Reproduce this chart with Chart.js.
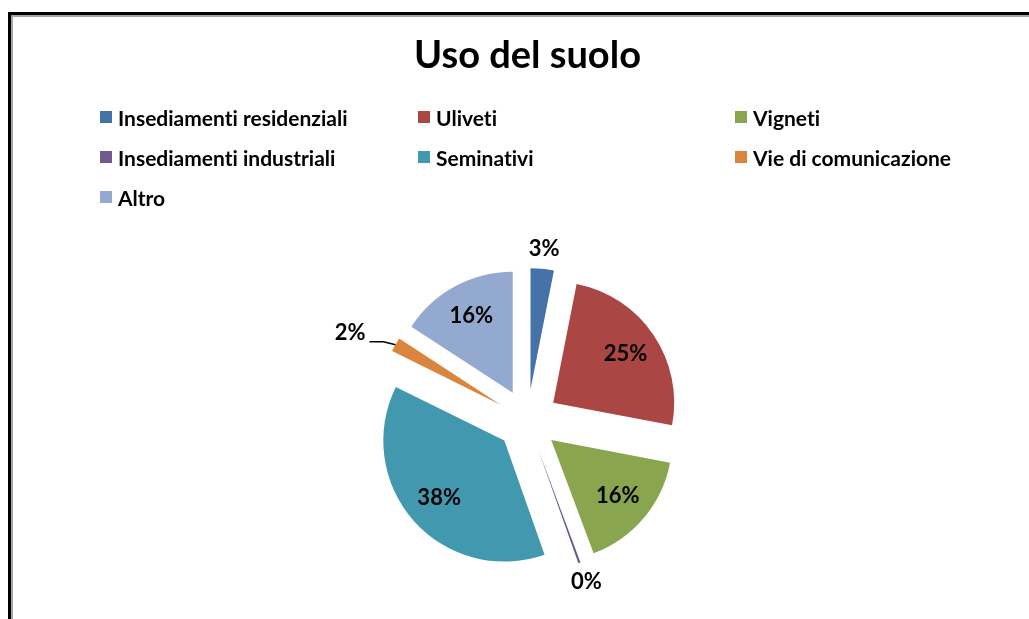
<!DOCTYPE html>
<html>
<head>
<meta charset="utf-8">
<script src="https://cdn.jsdelivr.net/npm/chart.js@4"></script>
<style>
  html, body { margin: 0; padding: 0; background: #fff; }
  #wrap { position: relative; width: 1029px; height: 619px; overflow: hidden; background: #fff; }
  #frame { position: absolute; left: 8px; top: 12px; width: 1100px; height: 700px;
           border-left: 3px solid #000; border-top: 3px solid #000;
           box-shadow: inset 2px 2px 0 #a6a6a6; }
  #c { position: absolute; left: 0; top: 0; }
  #legend { position: absolute; left: 0; top: 0; width: 1029px; height: 619px; pointer-events: none;
            font-family: Lato, "Open Sans", sans-serif; font-weight: bold; font-size: 21px; color: #000;
            font-variant-ligatures: none; font-feature-settings: "liga" 0, "clig" 0; }
  .li { position: absolute; display: flex; align-items: center; white-space: nowrap; height: 24px; }
  .sw { width: 12px; height: 12px; margin-right: 6px; }
</style>
</head>
<body>
<div id="wrap">
  <div id="frame"></div>
  <canvas id="c" width="1029" height="619"></canvas>
  <div id="legend"></div>
</div>
<script>
const titleText = 'Uso del suolo';
const categories = ['Insediamenti residenziali', 'Uliveti', 'Vigneti', 'Insediamenti industriali', 'Seminativi', 'Vie di comunicazione', 'Altro'];
const values = [3.1, 24.9, 16.3, 0.3, 37.7, 1.9, 15.8];
const colors = ['#4572A7', '#AA4643', '#89A54E', '#71588F', '#4198AF', '#DB843D', '#93A9CF'];

const EXPLODE = 31;
const LABEL_FONT = 'bold 22px Lato, "Open Sans", sans-serif';

// legend (3 columns, row-major)
const legendEl = document.getElementById('legend');
const colX = [100, 418, 735];
const rowY = [105, 145, 185];
categories.forEach((name, i) => {
  const d = document.createElement('div');
  d.className = 'li';
  d.style.left = colX[i % 3] + 'px';
  d.style.top = rowY[Math.floor(i / 3)] + 'px';
  const sw = document.createElement('span');
  sw.className = 'sw';
  sw.style.background = colors[i];
  const t = document.createElement('span');
  t.textContent = name;
  d.appendChild(sw); d.appendChild(t);
  legendEl.appendChild(d);
});

const explodePlugin = {
  id: 'explode',
  beforeDatasetDraw(chart, args) {
    const ctx = chart.ctx;
    args.meta.data.forEach(arc => {
      const mid = (arc.startAngle + arc.endAngle) / 2;
      ctx.save();
      ctx.translate(Math.cos(mid) * EXPLODE, Math.sin(mid) * EXPLODE);
      arc.draw(ctx);
      ctx.restore();
    });
    return false;
  },
  afterDatasetsDraw(chart) {
    const ctx = chart.ctx;
    const meta = chart.getDatasetMeta(0);
    const data = chart.data.datasets[0].data;
    const total = data.reduce((a, b) => a + b, 0);
    ctx.save();
    ctx.font = LABEL_FONT;
    ctx.fillStyle = '#000';
    ctx.strokeStyle = '#000';
    meta.data.forEach((arc, i) => {
      const mid = (arc.startAngle + arc.endAngle) / 2;
      const dx = Math.cos(mid), dy = Math.sin(mid);
      const ax = arc.x + dx * EXPLODE, ay = arc.y + dy * EXPLODE;
      const r = arc.outerRadius;
      const frac = data[i] / total;
      const txt = Math.round(frac * 100) + '%';
      if (frac >= 0.05) {
        ctx.textAlign = 'center'; ctx.textBaseline = 'middle';
        ctx.fillText(txt, ax + dx * r * 0.72, ay + dy * r * 0.72);
      } else if (Math.abs(dx) > Math.abs(dy)) {
        const tx = ax + dx * r, ty = ay + dy * r;
        const side = dx < 0 ? -1 : 1;
        ctx.lineWidth = 1.5;
        ctx.beginPath();
        ctx.moveTo(tx, ty);
        ctx.lineTo(tx + side * 12, ty - 3);
        ctx.lineTo(tx + side * 26, ty - 3);
        ctx.stroke();
        ctx.textAlign = side < 0 ? 'right' : 'left';
        ctx.textBaseline = 'middle';
        ctx.fillText(txt, tx + side * 30, ty - 12);
      } else {
        ctx.textAlign = 'center'; ctx.textBaseline = 'middle';
        ctx.fillText(txt, ax + dx * (r + 20), ay + dy * (r + 20));
      }
    });
    ctx.restore();
  }
};

new Chart(document.getElementById('c'), {
  type: 'pie',
  data: {
    labels: categories,
    datasets: [{
      data: values,
      backgroundColor: colors,
      borderWidth: 0,
      hoverOffset: 0
    }]
  },
  options: {
    responsive: false,
    animation: false,
    radius: 121,
    layout: { padding: { left: 26, right: 0, top: 0, bottom: 0 } },
    plugins: {
      legend: { display: false },
      tooltip: { enabled: false },
      title: {
        display: true,
        text: titleText,
        color: '#000',
        font: { family: 'Lato, "Open Sans", sans-serif', size: 38, weight: 'bold', lineHeight: 1.2 },
        padding: { top: 33, bottom: 142.4 }
      }
    }
  },
  plugins: [explodePlugin]
});
</script>
</body>
</html>
